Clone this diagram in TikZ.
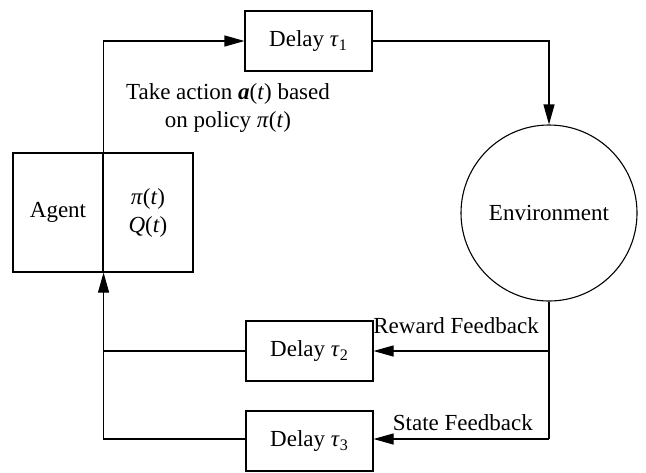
\documentclass[tikz,border=0pt]{standalone}
\usepackage{amsmath, amssymb}
\usepackage{fontspec}
\setmainfont{Liberation Serif}
\usepackage{tikz}
\usetikzlibrary{shapes.geometric, arrows.meta, positioning, calc}
\newcommand{\vi}[1]{\textit{#1}}

\begin{document}
\begin{tikzpicture}[
  x=0.5pt, y=-0.5pt,
  font=\fontsize{11.5}{14}\selectfont,
  line width=0.55pt,
  box/.style={draw, line width=0.55pt, minimum width=63.5pt, minimum height=30pt, inner sep=0pt},
  half/.style={draw, line width=0.55pt, minimum width=45pt, minimum height=59.5pt, inner sep=0pt, align=center},
  world/.style={draw, circle, line width=0.55pt, minimum size=88pt, inner sep=0pt},
  arr/.style={-{Triangle[length=10pt, width=5.5pt]}},
]
  \useasboundingbox (0,0) rectangle (646,472);

  % Agent
  \node[half] (agent)  at (58, 212.5)  {Agent};
  \node[half] (policy) at (148, 212.5) {\vi{π}(\vi{t})\\\vi{Q}(\vi{t})};

  % Delays and environment
  \node[box] (delay1) at (308.5, 41)  {Delay \vi{τ}\textsubscript{1}};
  \node[world] (env)  at (549, 213)   {Environment};
  \node[box] (delay2) at (309.5, 351) {Delay \vi{τ}\textsubscript{2}};
  \node[box] (delay3) at (309.5, 441) {Delay \vi{τ}\textsubscript{3}};

  \coordinate (reward) at (549, 351);
  \coordinate (state)  at (549, 439);

  % Forward path
  \draw[arr] (agent.north east) |- (delay1.west);
  \draw[arr] (delay1.east) -| (env.north);
  \node[align=center] (action) at (228, 108) {Take action \textbf{\vi{a}}(\vi{t}) based\\on policy \vi{π}(\vi{t})};

  % Feedback
  \draw (env.south) -- (state);
  \draw[arr] (reward) -- (delay2.east);
  \draw[arr] (state) -- (delay2.east |- state);
  \node[anchor=east] (rlabel) at (546, 326) {Reward Feedback};
  \node[anchor=east] (slabel) at (540, 423) {State Feedback};

  \draw (delay2.west) -- (delay2.west -| agent.south east);
  \draw[arr] (delay3.west |- state) -| (agent.south east);
\end{tikzpicture}
\end{document}
